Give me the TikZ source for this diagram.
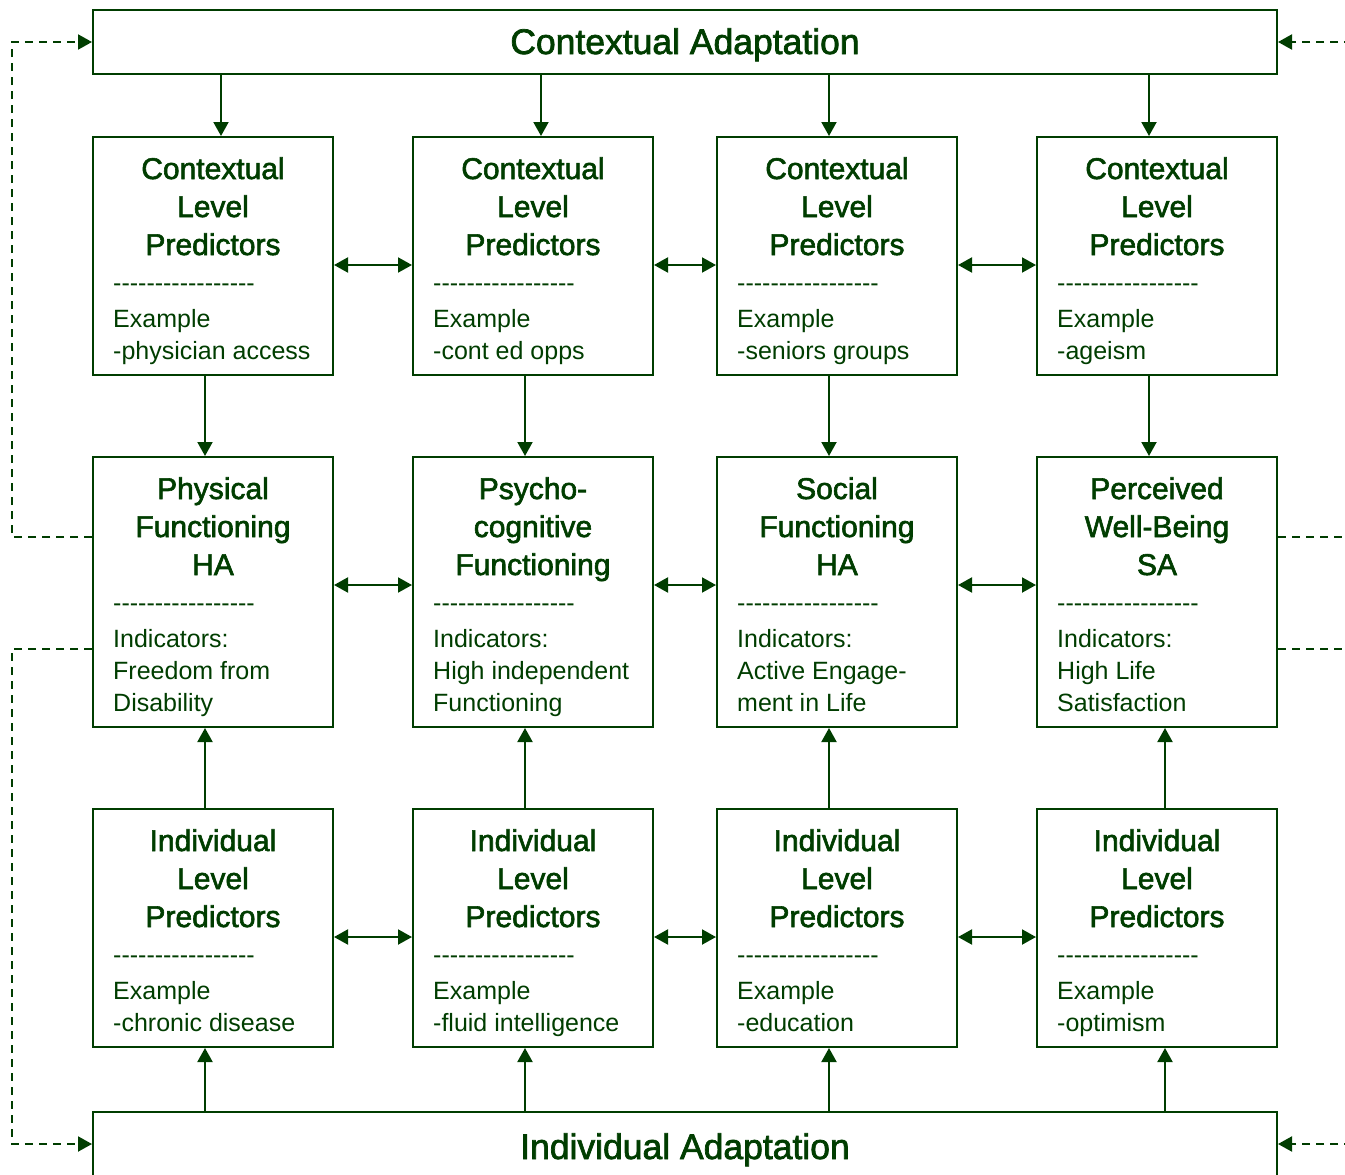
\documentclass[tikz,border=0pt]{standalone}
\usepackage{fontspec}
\setmainfont{Liberation Sans}
\newfontfamily\ttlfont{Liberation Sans}[FakeBold=2]
\usetikzlibrary{arrows.meta,calc}
\definecolor{dg}{RGB}{0,61,0}
\newcommand\hy{-\kern0pt}
\newcommand\sepline{\hy\hy\hy\hy\hy\hy\hy\hy\hy\hy\hy\hy\hy\hy\hy\hy\hy}
\tikzset{
 bx/.style={draw=dg, line width=2pt, minimum width=240pt, inner sep=0pt},
 widebox/.style={draw=dg, line width=2pt, minimum width=1184pt, minimum height=64pt, inner sep=0pt},
 ttl/.style={text=dg, font=\ttlfont\fontsize{30}{36}\selectfont, anchor=base, inner sep=0pt},
 bigttl/.style={text=dg, font=\ttlfont\fontsize{35.5}{40}\selectfont, anchor=base, inner sep=0pt},
 bdy/.style={text=dg, font=\fontsize{25}{32}\selectfont, anchor=base west, inner sep=0pt},
 tip/.style={-{Triangle[length=14pt,width=15pt]}},
 arr/.style={draw=dg, line width=2pt, tip},
 darr/.style={draw=dg, line width=2pt, {Triangle[length=14pt,width=15pt]}-{Triangle[length=14pt,width=15pt]}},
 dsh/.style={draw=dg, line width=2pt, dash pattern=on 8pt off 6pt},
}
\newcommand\mybox[6]{%
 \node[bx, minimum height=#4pt] (#1) at (#2,{#3+#4/2}) {};
 \foreach \tl [count=\i] in {#5} {\node[ttl] (#1-t\i) at (#2,{#3+42+38*(\i-1)}) {\tl};}
 \node[bdy] (#1-s) at ({#2-100},{#3+154}) {\sepline};
 \foreach \bl [count=\i] in {#6} {\node[bdy] (#1-b\i) at ({#2-100},{#3+190+32*(\i-1)}) {\bl};}
}
\begin{document}
\begin{tikzpicture}[x=1pt,y=-1pt]
\useasboundingbox (0,0) rectangle (1345,1175);
\clip (0,0) rectangle (1345,1175);
\coordinate (lx) at (12,0);
\coordinate (rx) at (1352,0);
% wide boxes
\node[widebox] (ctop) at (685,42) {};
\node[bigttl] (ctopt) at (685,54) {Contextual Adaptation};
\node[widebox] (ibot) at (685,1144) {};
\node[bigttl] (ibott) at (685,1159) {Individual Adaptation};
% row 1
\mybox{a1}{213}{137}{238}{Contextual,Level,Predictors}{Example,-physician access}
\mybox{a2}{533}{137}{238}{Contextual,Level,Predictors}{Example,-cont ed opps}
\mybox{a3}{837}{137}{238}{Contextual,Level,Predictors}{Example,-seniors groups}
\mybox{a4}{1157}{137}{238}{Contextual,Level,Predictors}{Example,-ageism}
% row 2
\mybox{b1}{213}{457}{270}{Physical,Functioning,HA}{Indicators:,Freedom from,Disability}
\mybox{b2}{533}{457}{270}{Psycho-,cognitive,Functioning}{Indicators:,High independent,Functioning}
\mybox{b3}{837}{457}{270}{Social,Functioning,HA}{Indicators:,Active Engage-,ment in Life}
\mybox{b4}{1157}{457}{270}{Perceived,Well-Being,SA}{Indicators:,High Life,Satisfaction}
% row 3
\mybox{c1}{213}{809}{238}{Individual,Level,Predictors}{Example,-chronic disease}
\mybox{c2}{533}{809}{238}{Individual,Level,Predictors}{Example,-fluid intelligence}
\mybox{c3}{837}{809}{238}{Individual,Level,Predictors}{Example,-education}
\mybox{c4}{1157}{809}{238}{Individual,Level,Predictors}{Example,-optimism}
% vertical arrows
\foreach \n/\o in {a1/8,a2/8,a3/-8,a4/-8}
  \draw[arr] ($(ctop.south -| \n.north)+(\o,0)$) -- ($(\n.north)+(\o,0)$);
\foreach \u/\d in {a1/b1,a2/b2,a3/b3,a4/b4}
  \draw[arr] ($(\u.south)+(-8,0)$) -- ($(\d.north)+(-8,0)$);
\foreach \c/\b/\o in {c1/b1/-8,c2/b2/-8,c3/b3/-8,c4/b4/8}
  \draw[arr] ($(\c.north)+(\o,0)$) -- ($(\b.south)+(\o,0)$);
\foreach \c/\o in {c1/-8,c2/-8,c3/-8,c4/8}
  \draw[arr] ($(ibot.north -| \c.south)+(\o,0)$) -- ($(\c.south)+(\o,0)$);
% horizontal double arrows
\foreach \l/\r in {a1/a2,a2/a3,a3/a4}
  \draw[darr] ($(\l.east)+(0,9)$) -- ($(\r.west)+(0,9)$);
\foreach \l/\r in {b1/b2,b2/b3,b3/b4}
  \draw[darr] ($(\l.east)+(0,-7)$) -- ($(\r.west)+(0,-7)$);
\foreach \l/\r in {c1/c2,c2/c3,c3/c4}
  \draw[darr] ($(\l.east)+(0,9)$) -- ($(\r.west)+(0,9)$);
% dashed feedback
\draw[dsh,tip] ($(b1.west)+(0,-55)$) -| (lx |- ctop.west) -- (ctop.west);
\draw[dsh,tip] ($(b1.west)+(0,57)$) -| (lx |- ibot.west) -- (ibot.west);
\draw[dsh] ($(b4.east)+(0,-55)$) coordinate (q1) -- (q1 -| rx);
\draw[dsh] ($(b4.east)+(0,57)$) coordinate (q2) -- (q2 -| rx);
\draw[dsh,tip] (rx |- ctop.east) -- (ctop.east);
\draw[dsh,tip] (rx |- ibot.east) -- (ibot.east);
\end{tikzpicture}
\end{document}
